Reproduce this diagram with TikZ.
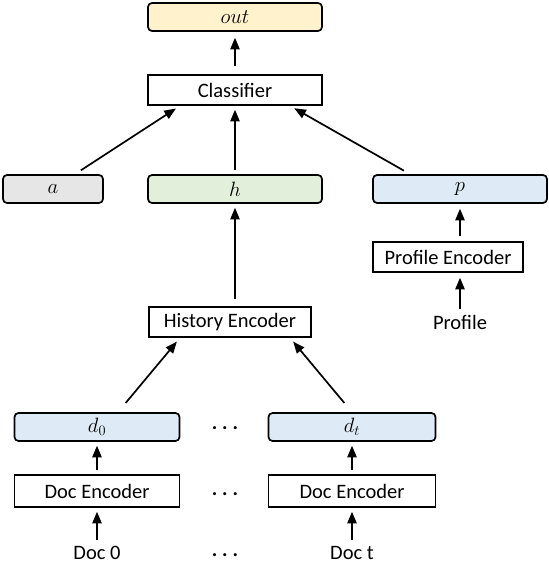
\documentclass[tikz,border=0pt]{standalone}
\usepackage{fontspec}
\setmainfont{Carlito}
\usetikzlibrary{arrows,calc}
\definecolor{outfill}{HTML}{FFF2CC}
\definecolor{grayfill}{HTML}{E7E6E6}
\definecolor{greenfill}{HTML}{E2EFDA}
\definecolor{bluefill}{HTML}{DEEBF7}
\newcommand{\gapdots}{\textbf{.\hspace{5pt}.\hspace{5pt}.}}

\begin{document}
\begin{tikzpicture} [>=triangle 45, x=1pt, y=-1pt, line width=1.7pt,
  vec/.style={draw, rounded corners=4pt, minimum height=28pt, inner sep=0pt,
    font=\fontsize{22}{24}\selectfont},
  enc/.style={draw, minimum height=30pt, inner sep=0pt},
  font=\fontsize{20.5}{23}\selectfont]
\useasboundingbox (0,0) rectangle (548,564);
% top part
\node[vec, fill=outfill, minimum width=174pt] (out) at (235,17) {$out$};
\node[enc, minimum width=174pt] (cls) at (235,90) {Classifier};
\node[vec, fill=grayfill, minimum width=100pt] (a) at (53,189) {$a$};
\node[vec, fill=greenfill, minimum width=174pt] (h) at (235,189) {$h$};
\node[vec, fill=bluefill, minimum width=174pt] (p) at (460,189) {$p$};
% profile branch
\node[enc, minimum width=150pt] (penc) at (448,257) {Profile Encoder};
\node (prof) at (460,322) {Profile};
% history branch
\node[enc, minimum width=162pt] (hist) at (230,322) {History Encoder};
\node[vec, fill=bluefill, minimum width=165pt] (d0) at (97,427) {$d_0$};
\node[vec, fill=bluefill, minimum width=167pt] (dt) at (352,427) {$d_t$};
\node[enc, minimum width=165pt, minimum height=32pt] (denc0) at (97,491) {Doc Encoder};
\node[enc, minimum width=167pt, minimum height=32pt] (denct) at (352,491) {Doc Encoder};
\node (doc0) at (97,553) {Doc 0};
\node (doct) at (352,553) {Doc t};
\node (dots1) at (225,428) {\gapdots};
\node (dots2) at (225,494) {\gapdots};
\node (dots3) at (225,555) {\gapdots};
% arrows
\draw[->, shorten <=8pt, shorten >=6pt] (cls) -- (out);
\draw[->, shorten <=4pt, shorten >=4pt] (h) -- (cls);
\draw[->, shorten <=7pt, shorten >=5pt] ($(a.north)+(22,0)$) -- ($(cls.south)+(-55,0)$);
\draw[->, shorten <=7pt, shorten >=5pt] ($(p.north)+(-50,0)$) -- ($(cls.south)+(55,0)$);
\draw[->, shorten <=5pt, shorten >=5pt] ($(penc.north)+(12,0)$) -- (p.south);
\draw[->, shorten <=2pt, shorten >=5pt] (prof) -- ($(penc.south)+(12,0)$);
\draw[->, shorten <=7pt, shorten >=4pt] ($(hist.north)+(5,0)$) -- (h.south);
\draw[->, shorten <=12pt, shorten >=5pt] ($(d0.north)+(21,0)$) -- ($(hist.south)+(-50,0)$);
\draw[->, shorten <=12pt, shorten >=5pt] (dt.north) -- ($(hist.south)+(60,0)$);
\draw[->, shorten <=4pt, shorten >=4pt] (denc0) -- (d0);
\draw[->, shorten <=4pt, shorten >=4pt] (denct) -- (dt);
\draw[->, shorten <=2pt, shorten >=4pt] (doc0) -- (denc0);
\draw[->, shorten <=2pt, shorten >=4pt] (doct) -- (denct);
\end{tikzpicture}
\end{document}
